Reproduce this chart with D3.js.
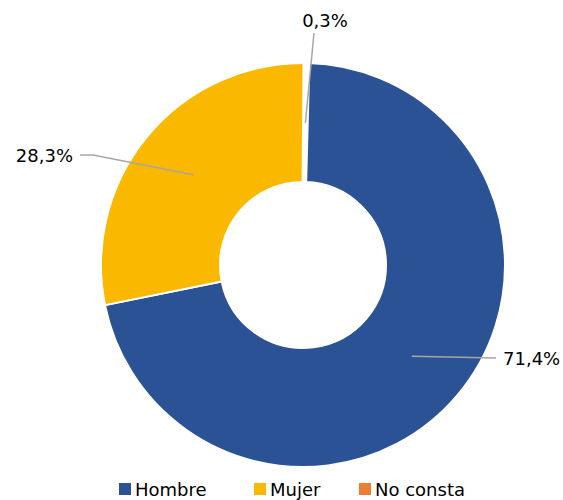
<!DOCTYPE html>
<html>
<head>
<meta charset="utf-8">
<script src="https://cdn.jsdelivr.net/npm/d3@7"></script>
<style>
  body { margin: 0; background: #fff; }
  text { font-family: "DejaVu Sans", sans-serif; }
</style>
</head>
<body>
<script>
// chart data
let categories = ["Hombre", "Mujer", "No consta"];
let values = [71.4, 28.3, 0.3];
let labels = ["71,4%", "28,3%", "0,3%"];
let colors = ["#2A5294", "#FBB800", "#ED7D31"];

let w = 563, h = 500;
let cx = 303, cy = 265;
let outerR = 202, innerR = 83;
let rot = 1.5 * Math.PI / 180; // first slice starts a bit right of 12 o'clock

let svg = d3.select("body").append("svg")
  .attr("width", w)
  .attr("height", h);

let pie = d3.pie().sort(null).value(d => d)
  .startAngle(rot).endAngle(2 * Math.PI + rot);
let arcs = pie(values);

let arc = d3.arc().innerRadius(innerR).outerRadius(outerR);
let midArc = d3.arc().innerRadius(142).outerRadius(142);

let g = svg.append("g").attr("transform", "translate(" + cx + "," + cy + ")");

g.selectAll("path.slice")
  .data(arcs)
  .enter().append("path")
  .attr("class", "slice")
  .attr("d", arc)
  .attr("fill", (d, i) => colors[i])
  .attr("stroke", "#fff")
  .attr("stroke-width", (d, i) => i == 2 ? 4 : 2);

// leader line bends and label spots, relative to centre
let bends = [[[193, 93]], [[-210, -110], [-223, -110]], [[11, -232]]];
let textPos = [[200, 100], [-230, -103], [22, -238]];
let anchors = ["start", "end", "middle"];

g.selectAll("polyline.leader")
  .data(arcs)
  .enter().append("polyline")
  .attr("class", "leader")
  .attr("fill", "none")
  .attr("stroke", "#A6A6A6")
  .attr("stroke-width", 1.5)
  .attr("points", (d, i) => [midArc.centroid(d)].concat(bends[i]).map(p => p.join(",")).join(" "));

g.selectAll("text.lbl")
  .data(arcs)
  .enter().append("text")
  .attr("class", "lbl")
  .attr("x", (d, i) => textPos[i][0])
  .attr("y", (d, i) => textPos[i][1])
  .attr("text-anchor", (d, i) => anchors[i])
  .attr("font-size", "18px")
  .attr("fill", "#000")
  .text((d, i) => labels[i]);

// legend
let legendX = [119, 254, 359];
let legend = svg.selectAll("g.legend")
  .data(categories)
  .enter().append("g")
  .attr("class", "legend")
  .attr("transform", (d, i) => "translate(" + legendX[i] + ",483)");

legend.append("rect")
  .attr("width", 12)
  .attr("height", 12)
  .attr("fill", (d, i) => colors[i]);

legend.append("text")
  .attr("x", 16)
  .attr("y", 12.5)
  .attr("font-size", "18px")
  .attr("fill", "#000")
  .text(d => d);
</script>
</body>
</html>
